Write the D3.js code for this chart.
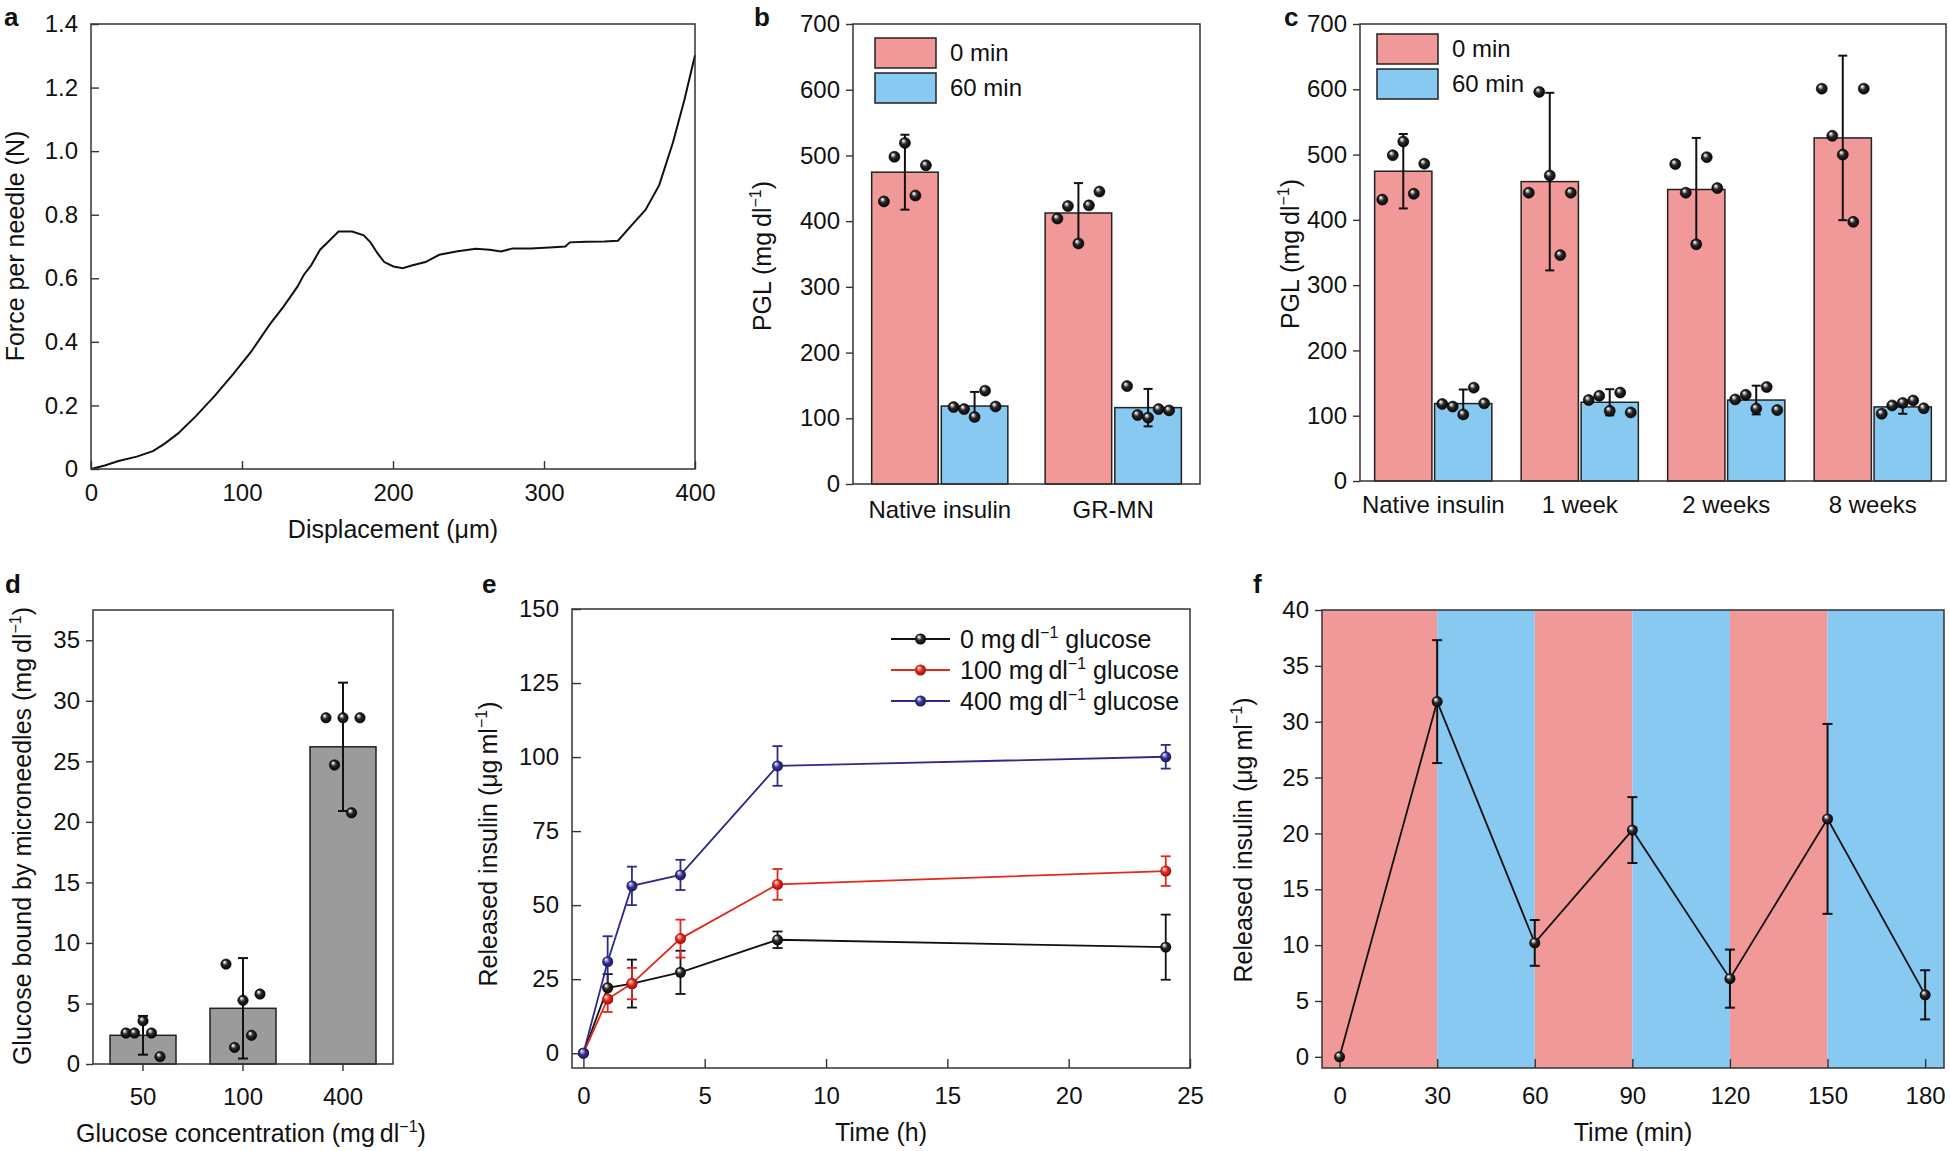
<!DOCTYPE html>
<html>
<head>
<meta charset="utf-8">
<script src="https://cdn.jsdelivr.net/npm/d3@7"></script>
<style>
  body { margin: 0; background: #fff; }
  text { font-family: "Liberation Sans", Arial, sans-serif; fill: #111; }
</style>
</head>
<body>
<svg id="fig" width="1950" height="1151"></svg>
<script>
// ---- panel a: force vs displacement
var aDisp = [0,9.1,18.2,30.3,41,48.6,57.7,69.8,81.9,94,106.2,118.4,127.5,136.6,141.1,145.7,151.7,157.8,163.9,173,
    180.6,185.1,189.7,194.2,200.3,206.4,212.4,221.5,230.6,242.8,254.9,264,271.6,279.2,291.3,303.5,314.1,317.1,327.8,339.9,
    349,358.1,367.2,376.3,385.4,393,400];
var aForce = [0,0.011,0.025,0.039,0.056,0.079,0.112,0.168,0.23,0.298,0.37,0.455,0.511,0.573,0.612,0.64,0.69,0.718,0.747,0.747,
    0.735,0.713,0.679,0.651,0.637,0.632,0.64,0.651,0.674,0.685,0.693,0.69,0.684,0.694,0.694,0.697,0.7,0.713,0.715,0.716,
    0.718,0.767,0.815,0.893,1.027,1.162,1.302];
var aXTicks = [0, 100, 200, 300, 400];
var aYTicks = [0, 0.2, 0.4, 0.6, 0.8, 1.0, 1.2, 1.4];

// ---- panel b: PGL, native insulin vs GR-MN
var timeKeys = ["0 min", "60 min"];
var bGroups = ["Native insulin", "GR-MN"];
var bMean0 = [474.5, 412.4];
var bSd0 = [57, 45.5];
var bDots0 = [[430, 498, 519, 439, 485], [404, 423, 366, 424, 445]];
var bMean60 = [118.6, 116.2];
var bSd60 = [21.5, 28.5];
var bDots60 = [[117, 114, 102, 142, 118], [149, 105, 101, 114, 112]];

// ---- panel c: PGL after storage
var cGroups = ["Native insulin", "1 week", "2 weeks", "8 weeks"];
var cMean0 = [474.5, 458.6, 446.5, 525.5];
var cSd0 = [57, 136, 79, 126];
var cDots0 = [[431, 499, 520, 440, 486], [441.6, 596, 468, 346, 441.6], [485.5, 441.6, 362.6, 496, 448.7], [601, 528.8, 500, 397, 601]];
var cMean60 = [118.6, 120.6, 124, 113.5];
var cSd60 = [21.5, 20, 22, 10.5];
var cDots60 = [[118, 114, 102, 143, 119], [124, 130.5, 107.5, 135.5, 105], [125, 132, 111, 144, 108.6], [103, 115.7, 119.6, 123.4, 111.4]];
var pglTicks = [0, 100, 200, 300, 400, 500, 600, 700];

// ---- panel d: glucose bound
var dGroups = ["50", "100", "400"];
var dMean = [2.37, 4.6, 26.2];
var dSd = [1.6, 4.15, 5.3];
var dDots = [[2.56, 2.56, 3.56, 2.56, 0.61], [8.25, 1.37, 5.26, 2.37, 5.78], [28.6, 24.7, 28.6, 20.75, 28.6]];
var dYTicks = [0, 5, 10, 15, 20, 25, 30, 35];

// ---- panel e: release over 24 h
var eTime = [0, 1, 2, 4, 8, 24];
var eNames = ["0", "100", "400"];
var eMean0 = [0, 22.1, 23.5, 27.3, 38.3, 35.8];
var eErr0 = [0, 4.6, 8.1, 7.3, 2.8, 11];
var eMean100 = [0, 18.3, 23.5, 38.7, 57, 61.5];
var eErr100 = [0, 4.4, 5.3, 6.4, 5.2, 5];
var eMean400 = [0, 30.9, 56.5, 60.2, 97, 100.1];
var eErr400 = [0, 8.6, 6.5, 5.1, 6.7, 4];
var eXTicks = [0, 5, 10, 15, 20, 25];
var eYTicks = [0, 25, 50, 75, 100, 125, 150];

// ---- panel f: pulsatile release
var fTime = [0, 30, 60, 90, 120, 150, 180];
var fMean = [0, 31.8, 10.2, 20.3, 7.0, 21.3, 5.55];
var fErr = [0, 5.5, 2.05, 2.95, 2.6, 8.5, 2.2];
var fSwitch = [0, 30, 60, 90, 120, 150];   // start of each glucose phase
var fPhase = ["high", "low", "high", "low", "high", "low"];
var fYTicks = [0, 5, 10, 15, 20, 25, 30, 35, 40];

var RED = "#f19899", BLUE = "#88c9f1", GREY = "#9b9b9b", INK = "#111";
var FONT = "Liberation Sans, Arial, sans-serif";
var TICK_FS = 24, TITLE_FS = 25;

var svg = d3.select("#fig");
svg.append("rect").attr("width", 1950).attr("height", 1151).attr("fill", "#fff");

// shaded balls
var defs = svg.append("defs");
function ball(id, stops) {
    var gr = defs.append("radialGradient").attr("id", id)
        .attr("cx", 0.5).attr("cy", 0.5).attr("r", 0.55).attr("fx", 0.33).attr("fy", 0.28);
    stops.forEach(function (s) {
        gr.append("stop").attr("offset", s[0]).attr("stop-color", s[1]);
    });
}
ball("ballK", [[0, "#ffffff"], [0.16, "#c8c8c8"], [0.45, "#2a2a2a"], [1, "#000"]]);
ball("ballR", [[0, "#ffffff"], [0.16, "#f6aca4"], [0.5, "#e3281c"], [1, "#900c06"]]);
ball("ballB", [[0, "#ffffff"], [0.16, "#b9b7e6"], [0.5, "#33318f"], [1, "#161552"]]);

function styleAxis(sel) {
    sel.select(".domain").remove();
    sel.attr("font-size", TICK_FS).attr("font-family", FONT);
    sel.selectAll(".tick line").attr("stroke", "#333").attr("stroke-width", 1.4);
    sel.selectAll(".tick text").attr("fill", INK);
}

function frame(g, w, h) {
    g.append("rect").attr("width", w).attr("height", h)
        .attr("fill", "none").attr("stroke", "#333").attr("stroke-width", 1.5);
}

function letter(txt, x, y) {
    svg.append("text").attr("x", x).attr("y", y).text(txt)
        .style("font-size", "26px").style("font-weight", "bold");
}

// text with a "−1" superscript
function supText(sel, before, after) {
    sel.append("tspan").text(before);
    sel.append("tspan").attr("dy", -10).style("font-size", "16px").text("\u22121");
    sel.append("tspan").attr("dy", 10).text(after);
}

function yTitle(g, x, cy, before, after) {
    var t = g.append("text")
        .attr("transform", "translate(" + x + "," + cy + ") rotate(-90)")
        .attr("text-anchor", "middle").attr("dy", "0.35em")
        .style("font-size", TITLE_FS + "px");
    if (after === undefined) t.text(before);
    else supText(t, before, after);
}

function xTitle(g, cx, y, before, after) {
    var t = g.append("text").attr("x", cx).attr("y", y)
        .attr("text-anchor", "middle").style("font-size", TITLE_FS + "px");
    if (after === undefined) t.text(before);
    else supText(t, before, after);
}

function errBar(g, cx, lo, hi, cap, color, width) {
    var e = g.append("g").attr("stroke", color).attr("stroke-width", width);
    e.append("line").attr("x1", cx).attr("x2", cx).attr("y1", lo).attr("y2", hi);
    e.append("line").attr("x1", cx - cap).attr("x2", cx + cap).attr("y1", lo).attr("y2", lo);
    e.append("line").attr("x1", cx - cap).attr("x2", cx + cap).attr("y1", hi).attr("y2", hi);
}

// dots spread evenly across the bar, in data order
function dotRow(g, cx, vals, y, step, r) {
    vals.forEach(function (v, j) {
        g.append("circle")
            .attr("cx", cx + (j - (vals.length - 1) / 2) * step)
            .attr("cy", y(v)).attr("r", r)
            .attr("fill", "url(#ballK)").attr("stroke", "#000").attr("stroke-width", 0.6);
    });
}

// ================= a =================
(function () {
    var w = 604, h = 445;
    var g = svg.append("g").attr("transform", "translate(91,24)");
    var x = d3.scaleLinear().domain([0, 400]).range([0, w]);
    var y = d3.scaleLinear().domain([0, 1.4]).range([h, 0]);

    g.append("path").datum(d3.range(aDisp.length))
        .attr("fill", "none").attr("stroke", INK).attr("stroke-width", 2)
        .attr("d", d3.line().x(function (i) { return x(aDisp[i]); }).y(function (i) { return y(aForce[i]); }));

    g.append("g").attr("transform", "translate(0," + h + ")")
        .call(d3.axisBottom(x).tickValues(aXTicks).tickSizeInner(-8).tickSizeOuter(0).tickPadding(15))
        .call(styleAxis);
    g.append("g")
        .call(d3.axisLeft(y).tickValues(aYTicks).tickSizeInner(-8).tickSizeOuter(0).tickPadding(13)
            .tickFormat(function (d) { return d === 0 ? "0" : d3.format(".1f")(d); }))
        .call(styleAxis);
    frame(g, w, h);

    yTitle(svg, 15, 246, "Force per needle (N)");
    xTitle(svg, 393, 538, "Displacement (\u03bcm)");
    letter("a", 4, 26);
})();

// ================= b and c =================
function pglPanel(left, top, w, h, groups, means, sds, dots, pad, leg, labPad) {
    var g = svg.append("g").attr("transform", "translate(" + left + "," + top + ")");
    var x0 = d3.scaleBand().domain(groups).range([0, w]).paddingInner(pad).paddingOuter(pad / 2);
    var x1 = d3.scaleBand().domain(timeKeys).range([0, x0.bandwidth()]).paddingInner(0.045);
    var y = d3.scaleLinear().domain([0, 700]).range([h, 0]);
    var fills = [RED, BLUE];

    timeKeys.forEach(function (k, s) {
        groups.forEach(function (grp, i) {
            var bx = x0(grp) + x1(k);
            var bw = x1.bandwidth();
            var cx = bx + bw / 2;
            g.append("rect").attr("x", bx).attr("y", y(means[s][i]))
                .attr("width", bw).attr("height", h - y(means[s][i]))
                .attr("fill", fills[s]).attr("stroke", "#222").attr("stroke-width", 1.5);
            errBar(g, cx, y(means[s][i] - sds[s][i]), y(means[s][i] + sds[s][i]), 4.5, INK, 2);
            dotRow(g, cx, dots[s][i], y, 10.5, 5.5);
        });
    });

    g.append("g")
        .call(d3.axisLeft(y).tickValues(pglTicks).tickSizeInner(7).tickSizeOuter(0).tickPadding(6))
        .call(styleAxis);
    g.append("g").attr("transform", "translate(0," + h + ")")
        .call(d3.axisBottom(x0).tickSize(0).tickPadding(labPad))
        .call(styleAxis);
    frame(g, w, h);

    // legend
    timeKeys.forEach(function (k, s) {
        g.append("rect").attr("x", leg[0]).attr("y", leg[1] + s * 35)
            .attr("width", 61).attr("height", 30)
            .attr("fill", fills[s]).attr("stroke", "#222").attr("stroke-width", 1.5);
        g.append("text").attr("x", leg[0] + 75).attr("y", leg[1] + s * 35 + 15)
            .attr("dy", "0.35em").style("font-size", "24px").text(k);
    });
    return g;
}

pglPanel(853, 24, 347, 460, bGroups, [bMean0, bMean60], [bSd0, bSd60], [bDots0, bDots60], 0.215, [22, 14], 17);
yTitle(svg, 762, 256, "PGL (mg\u2009dl", ")");
letter("b", 754, 26);

pglPanel(1360, 24, 586, 457, cGroups, [cMean0, cMean60], [cSd0, cSd60], [cDots0, cDots60], 0.2, [17, 10], 15);
yTitle(svg, 1290, 254, "PGL (mg\u2009dl", ")");
letter("c", 1284, 26);

// ================= d =================
(function () {
    var w = 300, h = 454;
    var g = svg.append("g").attr("transform", "translate(93,610)");
    var x = d3.scaleBand().domain(dGroups).range([0, w]).paddingInner(0.34).paddingOuter(0.17);
    var y = d3.scaleLinear().domain([0, 37.5]).range([h, 0]);

    dGroups.forEach(function (grp, i) {
        var cx = x(grp) + x.bandwidth() / 2;
        g.append("rect").attr("x", x(grp)).attr("y", y(dMean[i]))
            .attr("width", x.bandwidth()).attr("height", h - y(dMean[i]))
            .attr("fill", GREY).attr("stroke", "#222").attr("stroke-width", 1.5);
        errBar(g, cx, y(dMean[i] - dSd[i]), y(dMean[i] + dSd[i]), 5, INK, 2);
        dotRow(g, cx, dDots[i], y, 8.5, 5.2);
    });

    g.append("g").call(d3.axisLeft(y).tickValues(dYTicks).tickSizeInner(7).tickSizeOuter(0).tickPadding(6))
        .call(styleAxis);
    g.append("g").attr("transform", "translate(0," + h + ")")
        .call(d3.axisBottom(x).tickSizeInner(7).tickSizeOuter(0).tickPadding(17))
        .call(styleAxis);
    frame(g, w, h);

    yTitle(svg, 22, 836, "Glucose bound by microneedles (mg\u2009dl", ")");
    xTitle(svg, 251, 1142, "Glucose concentration (mg\u2009dl", ")");
    letter("d", 5, 593);
})();

// ================= e =================
(function () {
    var w = 618, h = 459;
    var g = svg.append("g").attr("transform", "translate(572,609)");
    var x = d3.scaleLinear().domain([-0.47, 25]).range([0, w]);
    var y = d3.scaleLinear().domain([-5, 150]).range([h, 0]);
    var series = [
        { name: eNames[0], mean: eMean0, err: eErr0, color: "#111", ball: "ballK" },
        { name: eNames[1], mean: eMean100, err: eErr100, color: "#e3281c", ball: "ballR" },
        { name: eNames[2], mean: eMean400, err: eErr400, color: "#2c2a8a", ball: "ballB" }
    ];

    g.append("g").attr("transform", "translate(0," + h + ")")
        .call(d3.axisBottom(x).tickValues(eXTicks).tickSizeInner(-9).tickSizeOuter(0).tickPadding(19))
        .call(styleAxis);
    g.append("g")
        .call(d3.axisLeft(y).tickValues(eYTicks).tickSizeInner(-9).tickSizeOuter(0).tickPadding(13))
        .call(styleAxis);

    series.forEach(function (s) {
        g.append("path").datum(eTime)
            .attr("fill", "none").attr("stroke", s.color).attr("stroke-width", 1.8)
            .attr("d", d3.line().x(function (t) { return x(t); }).y(function (t, i) { return y(s.mean[i]); }));
        eTime.forEach(function (t, i) {
            if (s.err[i] > 0) errBar(g, x(t), y(s.mean[i] - s.err[i]), y(s.mean[i] + s.err[i]), 5, s.color, 1.8);
        });
    });
    series.forEach(function (s) {
        eTime.forEach(function (t, i) {
            g.append("circle").attr("cx", x(t)).attr("cy", y(s.mean[i])).attr("r", 5.5)
                .attr("fill", "url(#" + s.ball + ")");
        });
    });
    frame(g, w, h);

    // legend
    series.forEach(function (s, k) {
        var ly = 30 + k * 31;
        g.append("line").attr("x1", 319).attr("x2", 378).attr("y1", ly).attr("y2", ly)
            .attr("stroke", s.color).attr("stroke-width", 1.8);
        g.append("circle").attr("cx", 348.5).attr("cy", ly).attr("r", 5.5).attr("fill", "url(#" + s.ball + ")");
        var t = g.append("text").attr("x", 388).attr("y", ly).attr("dy", "0.35em").style("font-size", "25px");
        supText(t, s.name + " mg\u2009dl", " glucose");
    });

    yTitle(svg, 488, 844, "Released insulin (\u03bcg\u2009ml", ")");
    xTitle(svg, 881, 1141, "Time (h)");
    letter("e", 482, 593);
})();

// ================= f =================
(function () {
    var w = 622, h = 458;
    var g = svg.append("g").attr("transform", "translate(1322,610)");
    var x = d3.scaleLinear().domain([-5.4, 185.8]).range([0, w]);
    var y = d3.scaleLinear().domain([-1, 40]).range([h, 0]);
    var dom = x.domain();

    fSwitch.forEach(function (t0, i) {
        var a = i === 0 ? dom[0] : t0;
        var b = i === fSwitch.length - 1 ? dom[1] : fSwitch[i + 1];
        g.append("rect").attr("x", x(a)).attr("y", 0)
            .attr("width", x(b) - x(a)).attr("height", h)
            .attr("fill", fPhase[i] === "high" ? RED : BLUE);
    });

    g.append("g").attr("transform", "translate(0," + h + ")")
        .call(d3.axisBottom(x).tickValues(fTime).tickSizeInner(-9).tickSizeOuter(0).tickPadding(19))
        .call(styleAxis);
    g.append("g")
        .call(d3.axisLeft(y).tickValues(fYTicks).tickSizeInner(7).tickSizeOuter(0).tickPadding(6))
        .call(styleAxis);

    g.append("path").datum(fTime)
        .attr("fill", "none").attr("stroke", INK).attr("stroke-width", 1.8)
        .attr("d", d3.line().x(function (t) { return x(t); }).y(function (t, i) { return y(fMean[i]); }));
    fTime.forEach(function (t, i) {
        if (fErr[i] > 0) errBar(g, x(t), y(fMean[i] - fErr[i]), y(fMean[i] + fErr[i]), 5, INK, 2);
    });
    fTime.forEach(function (t, i) {
        g.append("circle").attr("cx", x(t)).attr("cy", y(fMean[i])).attr("r", 5.5)
            .attr("fill", "url(#ballK)");
    });
    frame(g, w, h);

    yTitle(svg, 1243, 840, "Released insulin (\u03bcg\u2009ml", ")");
    xTitle(svg, 1633, 1141, "Time (min)");
    letter("f", 1253, 593);
})();
</script>
</body>
</html>
